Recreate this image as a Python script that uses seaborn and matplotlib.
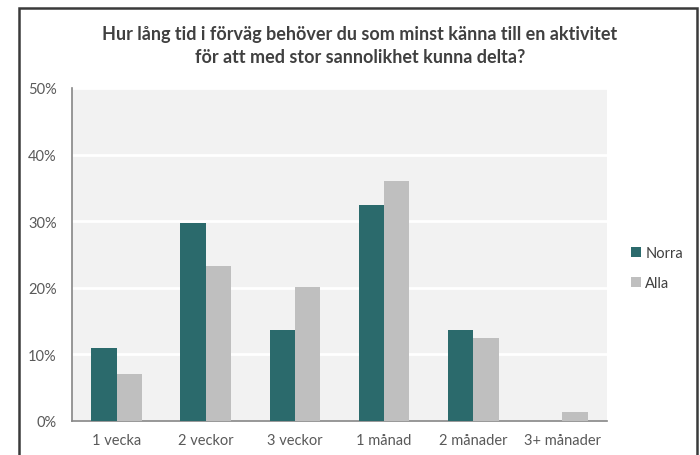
import matplotlib
matplotlib.use("Agg")
import matplotlib.pyplot as plt
from matplotlib.patches import Rectangle
from matplotlib.ticker import PercentFormatter
import seaborn as sns
import pandas as pd

categories = ["1 vecka", "2 veckor", "3 veckor", "1 månad", "2 månader", "3+ månader"]
norra = [10.9, 29.8, 13.6, 32.5, 13.6, 0.0]
alla = [7.0, 23.3, 20.1, 36.1, 12.5, 1.4]
series = ["Norra", "Alla"]
colors = ["#2b6a6c", "#bfbfbf"]
title = ("Hur lång tid i förväg behöver du som minst känna till en aktivitet\n"
         "för att med stor sannolikhet kunna delta?")

df = pd.DataFrame({
    "kategori": categories * 2,
    "grupp": [series[0]] * len(categories) + [series[1]] * len(categories),
    "andel": norra + alla,
})

sns.set_theme(style="white")
plt.rcParams["font.family"] = ["Lato", "DejaVu Sans"]

fig = plt.figure(figsize=(7.0, 4.56), dpi=100)
ax = fig.add_axes([72 / 700, 1 - 422 / 456, 535 / 700, 333 / 456])

sns.barplot(data=df, x="kategori", y="andel", hue="grupp", order=categories,
            hue_order=series, palette=colors, width=0.57, saturation=1,
            linewidth=0, ax=ax, zorder=3)

ax.set_facecolor("#f2f2f2")
ax.set_ylim(0, 50)
ax.set_yticks(range(0, 51, 10))
ax.yaxis.set_major_formatter(PercentFormatter(decimals=0))
ax.grid(axis="y", color="white", linewidth=2, zorder=1)
ax.set_axisbelow(True)
ax.set_xlabel("")
ax.set_ylabel("")
for side in ("top", "right"):
    ax.spines[side].set_visible(False)
for side in ("left", "bottom"):
    ax.spines[side].set_color("#868686")
    ax.spines[side].set_linewidth(1.2)
ax.tick_params(axis="both", length=0, colors="#595959", labelsize=10.5)
ax.tick_params(axis="x", pad=9)
ax.tick_params(axis="y", pad=11)

leg = ax.legend(loc="center left", bbox_to_anchor=(1.02, 0.46), frameon=False,
                fontsize=10.5, handlelength=0.7, handleheight=0.7,
                handletextpad=0.3, labelspacing=1.1)
for t in leg.get_texts():
    t.set_color("#404040")

fig.text(360 / 700, 1 - 46 / 456, title, ha="center", va="center",
         fontsize=13, fontweight="bold", color="#404040", linespacing=1.4)

# chart frame
fig.patches.append(Rectangle((19 / 700, -0.05), 678 / 700, 1.05 - 9 / 456,
                             transform=fig.transFigure, fill=False,
                             edgecolor="#3a3a3a", linewidth=1.8, zorder=0))

fig.savefig("out.png", dpi=100, facecolor="white")
